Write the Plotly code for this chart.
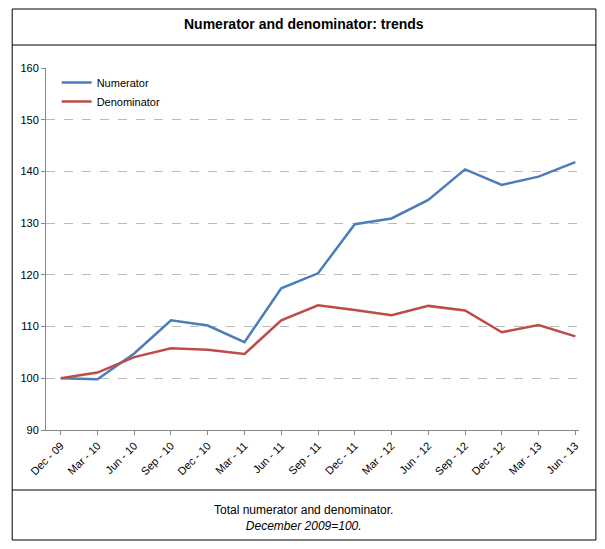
import plotly.graph_objects as go

quarters = ["Dec - 09", "Mar - 10", "Jun - 10", "Sep - 10", "Dec - 10", "Mar - 11", "Jun - 11",
            "Sep - 11", "Dec - 11", "Mar - 12", "Jun - 12", "Sep - 12", "Dec - 12", "Mar - 13", "Jun - 13"]
numerator = [100, 99.8, 104.8, 111.2, 110.2, 107.0, 117.4, 120.3, 129.8, 130.9, 134.5, 140.4, 137.4, 139.0, 141.8]
denominator = [100, 101.1, 104.1, 105.8, 105.5, 104.7, 111.2, 114.1, 113.2, 112.2, 114.0, 113.1, 108.9, 110.3, 108.1]

# page has an 8px body margin, so draw in a slightly smaller figure and shift by 8
OFF = 8
W, H = 589, 533
L, R, T, B = 43 - OFF, 18, 68 - OFF, 111


def px(x):
    return (x - OFF - L) / (W - L - R)


def py(y):
    return (H - B - (y - OFF)) / (H - T - B)


fig = go.Figure()
fig.add_trace(go.Scatter(x=quarters, y=numerator, name="Numerator", mode="lines",
                         line=dict(color="#4a7ebb", width=2.5)))
fig.add_trace(go.Scatter(x=quarters, y=denominator, name="Denominator", mode="lines",
                         line=dict(color="#be4b48", width=2.5)))

line = dict(color="black", width=1)
fig.add_shape(type="rect", xref="paper", yref="paper", x0=px(9), x1=px(596), y0=py(9), y1=py(540), line=line)
fig.add_shape(type="line", xref="paper", yref="paper", x0=px(9), x1=px(596), y0=py(45), y1=py(45), line=line)
fig.add_shape(type="line", xref="paper", yref="paper", x0=px(9), x1=px(596), y0=py(490), y1=py(490), line=line)

fig.add_annotation(text="<b>Numerator and denominator: trends</b>", xref="paper", yref="paper",
                   x=px(302), y=py(14), showarrow=False, font=dict(size=14))
fig.add_annotation(text="Total numerator and denominator.<br><i>December 2009=100.</i>", xref="paper",
                   yref="paper", x=px(302), y=py(535), showarrow=False, font=dict(size=12))

fig.update_layout(
    width=W, height=H,
    margin=dict(l=L, r=R, t=T, b=B),
    paper_bgcolor="white", plot_bgcolor="white",
    font=dict(family="Liberation Sans, Arial", size=11, color="black"),
    showlegend=True,
    legend=dict(x=0.02, y=1.0, xanchor="left", yanchor="top", bgcolor="rgba(0,0,0,0)",
                font=dict(size=11), tracegroupgap=2),
    xaxis=dict(tickangle=-45, showline=True, linecolor="#888", ticks="outside", ticklen=4,
               tickcolor="#888", showgrid=False, range=[-0.4, 14.1]),
    yaxis=dict(range=[90, 160], dtick=10, showline=True, linecolor="#888", ticks="outside",
               ticklen=4, tickcolor="#888", gridcolor="#bbb", griddash="dash", zeroline=False),
)

fig.write_html("out.html")
